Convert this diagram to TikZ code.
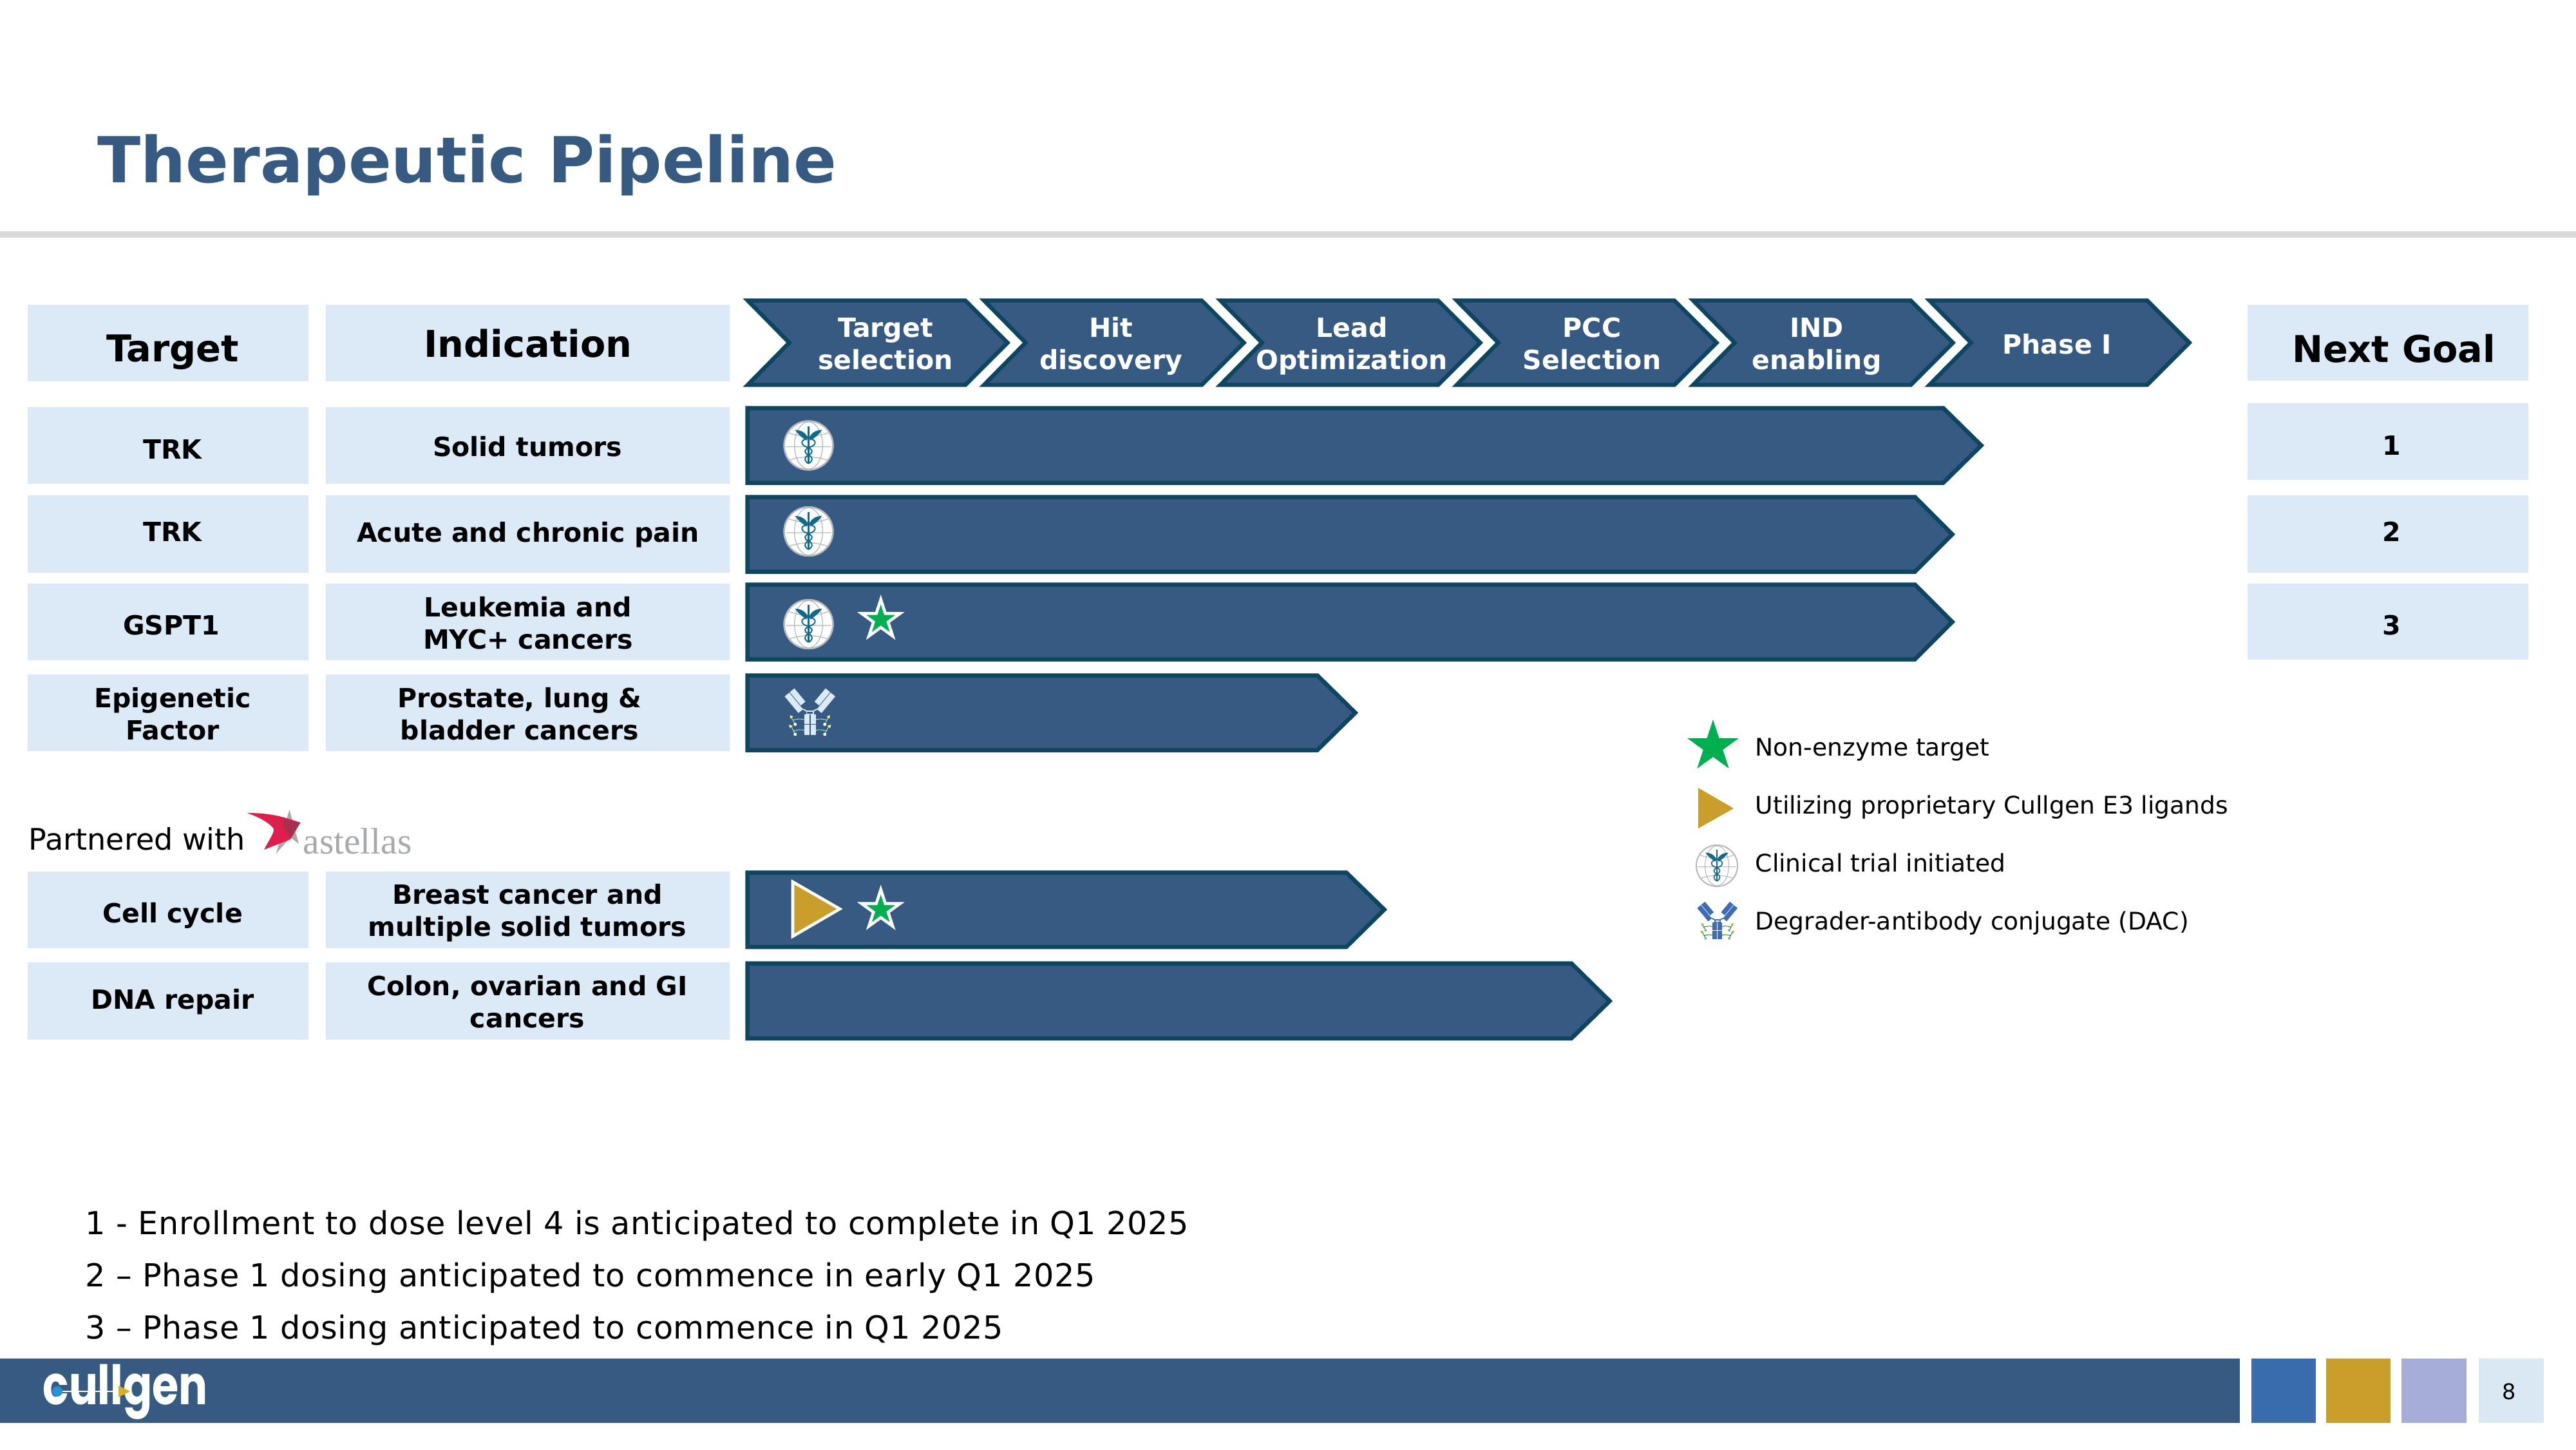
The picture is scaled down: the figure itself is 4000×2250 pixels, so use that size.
\documentclass[tikz,border=0pt]{standalone}
\usepackage{graphicx}
\usepackage{fontspec}
\setmainfont{DejaVu Sans}
\newfontfamily\astfont{Liberation Serif}
\newfontfamily\cullfont{Poppins}
\newfontfamily\widefont[LetterSpace=1.55]{DejaVu Sans}
\definecolor{barfill}{HTML}{375A82}
\definecolor{bardark}{HTML}{0E4560}
\definecolor{cell}{HTML}{DCE9F7}
\definecolor{goldc}{HTML}{C99E2B}
\definecolor{lav}{HTML}{A5ADD8}
\definecolor{midblue}{HTML}{386CAD}
\definecolor{pagec}{HTML}{DAE8F3}
\definecolor{rulec}{HTML}{D9D9D9}
\definecolor{greenc}{HTML}{00B050}
\definecolor{teal}{HTML}{0F6A8B}
\definecolor{globec}{HTML}{B5B8BA}
\definecolor{redc}{HTML}{DF1F4B}
\definecolor{redd}{HTML}{A82F50}
\definecolor{astgrey}{HTML}{A8A9AD}
\definecolor{abarm}{HTML}{3E6DB5}
\tikzset{
  cellbox/.style={fill=cell},
  pipe/.style={fill=barfill,draw=bardark,line width=1.85pt,miter limit=10},
  txt/.style={anchor=base,inner sep=0pt,align=center,text=black},
  rowtxt/.style={txt,font=\fontsize{11.67pt}{14.2pt}\selectfont\bfseries},
  headtxt/.style={txt,font=\fontsize{16.3pt}{19pt}\selectfont\bfseries},
  chevtxt/.style={txt,text=white,font=\fontsize{11.67pt}{14.2pt}\selectfont\bfseries},
  legtxt/.style={anchor=base west,inner sep=0pt,text=black,font=\fontsize{10.7pt}{12pt}\selectfont},
  foottxt/.style={anchor=base west,inner sep=0pt,text=black,font=\widefont\fontsize{14pt}{16pt}\selectfont},
  parttxt/.style={anchor=base west,inner sep=0pt,text=black,font=\fontsize{13.1pt}{15pt}\selectfont},
}
\newcommand\pipebar[5]{\draw[pipe] (1160.5,#1) -- (#3,#1) -- (#4,#5) -- (#3,#2) -- (1160.5,#2) -- cycle;}
\newcommand\starpath{(0,-1)--(.2245,-.309)--(.951,-.309)--(.363,.118)--(.588,.809)--(0,.382)--(-.588,.809)--(-.363,.118)--(-.951,-.309)--(-.2245,-.309)--cycle}
\newcommand\caduceus[3]{%
\begin{scope}[shift={(#1,#2)},scale=#3]
  \fill[white] (0,0) circle (1);
  \draw[globec,line width=.017pt*#3] (0,0) circle (.97);
  \draw[globec,line width=.009pt*#3] (-.9,.05) -- (.9,.05)
    (-.78,-.5) .. controls (-.3,-.32) and (.3,-.32) .. (.78,-.5)
    (-.74,.58) .. controls (-.3,.42) and (.3,.42) .. (.74,.58)
    (0,0) ellipse [x radius=.56,y radius=.94];
  \draw[teal,line width=.018pt*#3] (0,-.76) -- (0,.72);
  \foreach \s in {1,-1}{
    \begin{scope}[xscale=\s]
      \fill[teal] (-.02,-.3) .. controls (-.15,-.55) and (-.3,-.6) .. (-.54,-.62) .. controls (-.44,-.48) and (-.3,-.33) .. (-.08,-.2) -- cycle;
      \draw[teal,line width=.014pt*#3] (-.06,-.25) .. controls (-.32,-.25) and (-.32,-.02) .. (-.1,.05) .. controls (.2,.15) and (.2,.3) .. (0,.38) .. controls (-.22,.48) and (-.15,.65) .. (0,.72);
    \end{scope}}
\end{scope}}
\newcommand\antibody[8]{%
\begin{scope}[shift={(#1,#2)},scale=#3]
  \foreach \s in {1,-1}{
    \begin{scope}[xscale=\s]
      \draw[#5,line width=.25pt] (-70,15) -- (-55,43) (-70,50) -- (-55,80);
      \draw[#5,line width=.25pt] (-22,25) .. controls (-40,22) .. (-62,27) (-22,65) .. controls (-40,62) .. (-62,68);
      \fill[#6] (-75,9) -- (-62,14) -- (-72,22) -- cycle (-78,44) -- (-64,49) -- (-75,57) -- cycle;
      \fill[#7] (-55,43) circle (6) (-55,80) circle (6);
      \fill[#4] (-77.1,-74.8) -- (-25.9,-13.2) -- (-42.9,.8) -- (-94.1,-60.8) -- cycle;
      \fill[#4] (-58,-90.6) -- (-17,-41.4) -- (-34,-27.4) -- (-75,-76.6) -- cycle;
      \draw[#4,line width=.5pt] (-27,-14) -- (-12,-6);
      \fill[#4] (-22,5) rectangle (-2,83);
    \end{scope}}
  \draw[#8,line width=.3pt] (-22,44) -- (22,44);
  \draw[#4,line width=.45pt] (-12,-6) rectangle (12,5);
\end{scope}}
\begin{document}
\begin{tikzpicture}[x=0.01cm,y=-0.01cm]
\useasboundingbox (0,0) rectangle (4000,2250);
% title and rule
\node[anchor=base west,inner sep=0pt,text=barfill,font=\fontsize{28pt}{32pt}\selectfont\bfseries] (title) at (151,283) {Therapeutic Pipeline};
\fill[rulec] (0,359) rectangle (4000,369);
% left cells
\fill[cellbox] (43,473) rectangle (479,592);
\fill[cellbox] (506,473) rectangle (1133,592);
\fill[cellbox] (43,632) rectangle (479,751);
\fill[cellbox] (506,632) rectangle (1133,751);
\fill[cellbox] (43,769) rectangle (479,889);
\fill[cellbox] (506,769) rectangle (1133,889);
\fill[cellbox] (43,906) rectangle (479,1025);
\fill[cellbox] (506,906) rectangle (1133,1025);
\fill[cellbox] (43,1047) rectangle (479,1166);
\fill[cellbox] (506,1047) rectangle (1133,1166);
\fill[cellbox] (43,1353) rectangle (479,1472);
\fill[cellbox] (506,1353) rectangle (1133,1472);
\fill[cellbox] (43,1494) rectangle (479,1614);
\fill[cellbox] (506,1494) rectangle (1133,1614);
% right cells
\fill[cellbox] (3490,473) rectangle (3926,591);
\fill[cellbox] (3490,626) rectangle (3926,745);
\fill[cellbox] (3490,769) rectangle (3926,889);
\fill[cellbox] (3490,906) rectangle (3926,1024);
% chevrons
\foreach \i in {0,...,5}{
  \begin{scope}[shift={(\i*367,0)}]
    \draw[pipe,line width=1.8pt] (1161,466.5) -- (1499,466.5) -- (1564.5,532) -- (1499,597.5) -- (1161,597.5) -- (1225.5,532) -- cycle;
  \end{scope}}
% bars
\pipebar{633.5}{749.5}{3017.5}{3076.5}{691.5}
\pipebar{771.5}{887.5}{2973.5}{3031.5}{829.5}
\pipebar{907.5}{1023.5}{2973.5}{3031.5}{965.5}
\pipebar{1048.5}{1164.5}{2045.5}{2104.5}{1106.5}
\pipebar{1354.5}{1470}{2090.5}{2149.5}{1412}
\pipebar{1495.5}{1612}{2440}{2499.5}{1554}
% icons in bars
\caduceus{1255.5}{691.5}{39}
\caduceus{1255.5}{825}{39}
\caduceus{1255.5}{969}{39}
\antibody{1257.7}{1106.5}{.4176}{cell}{cell!80!green}{yellow!50!white}{white}{barfill}
\draw[fill=goldc,draw=white,line width=1.3pt] (1231,1369) -- (1304,1411) -- (1231,1453.5) -- cycle;
\begin{scope}[shift={(1367.7,1412.4)},scale=31.4]
  \draw[fill=greenc,draw=white,line width=1.3pt] \starpath;
\end{scope}
\begin{scope}[shift={(1367.7,962)},scale=31.4]
  \draw[fill=greenc,draw=white,line width=1.3pt] \starpath;
\end{scope}
% header labels
\node[headtxt] (hT) at (268,561) {Target};
\node[headtxt] (hI) at (820,554) {Indication};
\node[headtxt] (hN) at (3717,562) {Next Goal};
% chevron labels
\node[chevtxt] (c1) at (1375,573) {Target\\selection};
\node[chevtxt] (c2) at (1725,573) {Hit\\discovery};
\node[chevtxt] (c3) at (2099,573) {Lead\\Optimization};
\node[chevtxt] (c4) at (2472,573) {PCC\\Selection};
\node[chevtxt] (c5) at (2821,573) {IND\\enabling};
\node[chevtxt] (c6) at (3194,549) {Phase I};
% row labels
\node[rowtxt] (t1) at (268,712) {TRK};
\node[rowtxt] (i1) at (819,708) {Solid tumors};
\node[rowtxt] (t2) at (268,840) {TRK};
\node[rowtxt] (i2) at (820,841) {Acute and chronic pain};
\node[rowtxt] (t3) at (266,985) {GSPT1};
\node[rowtxt] (i3) at (820,1007) {Leukemia and\\MYC+ cancers};
\node[rowtxt] (t4) at (268,1148) {Epigenetic\\Factor};
\node[rowtxt] (i4) at (807,1148) {Prostate, lung \&\\bladder cancers};
\node[rowtxt] (t5) at (268,1432) {Cell cycle};
\node[rowtxt] (i5) at (819,1453) {Breast cancer and\\multiple solid tumors};
\node[rowtxt] (t6) at (268,1566) {DNA repair};
\node[rowtxt] (i6) at (819,1595) {Colon, ovarian and GI\\cancers};
\node[rowtxt] (n1) at (3714,706) {1};
\node[rowtxt] (n2) at (3714,840) {2};
\node[rowtxt] (n3) at (3714,985) {3};
% partner
\node[parttxt] (pw) at (44,1319) {Partnered with};
\fill[astgrey] (449.5,1257) -- (428.6,1325) -- (451,1300) -- (464,1310) -- cycle;
\fill[redc] (384,1262) .. controls (425,1262) and (445,1270) .. (466.5,1277) -- (451,1303) -- (410,1319) .. controls (420,1300) and (428,1290) .. (424,1285) .. controls (415,1275) and (400,1268) .. (384,1262) -- cycle;
\fill[redd] (440,1272) -- (466.5,1277) -- (451,1300) -- (440,1285) -- cycle;
\node[anchor=base west,inner sep=0pt,text=astgrey,font=\astfont\fontsize{16.3pt}{18pt}\selectfont] (ast) at (470,1325) {astellas};
% legend
\begin{scope}[shift={(2660,1159)},scale=42]
  \fill[greenc] \starpath;
\end{scope}
\fill[goldc] (2637,1223) -- (2692,1255) -- (2637,1286) -- cycle;
\caduceus{2666}{1344}{33}
\antibody{2666.7}{1430}{.3333}{abarm}{green!50!black}{goldc}{abarm!60!white}{white}
\node[legtxt] (l1) at (2725,1173) {Non-enzyme target};
\node[legtxt] (l2) at (2725,1263) {Utilizing proprietary Cullgen E3 ligands};
\node[legtxt] (l3) at (2725,1353) {Clinical trial initiated};
\node[legtxt] (l4) at (2725,1443) {Degrader-antibody conjugate (DAC)};
% footnotes
\node[foottxt] (f1) at (132,1916) {1 - Enrollment to dose level 4 is anticipated to complete in Q1 2025};
\node[foottxt] (f2) at (132,1997) {2 – Phase 1 dosing anticipated to commence in early Q1 2025};
\node[foottxt] (f3) at (132,2078) {3 – Phase 1 dosing anticipated to commence in Q1 2025};
% footer
\fill[barfill] (0,2109) rectangle (3478,2209);
\fill[midblue] (3496,2109) rectangle (3596,2209);
\fill[goldc] (3612,2109) rectangle (3712,2209);
\fill[lav] (3729,2109) rectangle (3830,2209);
\fill[pagec] (3849,2109) rectangle (3950,2209);
\node[anchor=base,inner sep=0pt,text=black,font=\fontsize{9.5pt}{11pt}\selectfont] (pg) at (3896,2172) {8};
\node[anchor=base west,inner sep=0pt,text=white,font=\cullfont\bfseries\fontsize{24pt}{28pt}\selectfont] (logo) at (66,2180) {\scalebox{.79}[1]{cullgen}};
\draw[white,line width=.5pt] (89,2160) -- (186,2160);
\fill[blue!40!cyan!70!gray] (89,2160) circle (8);
\fill[goldc!80!yellow] (184,2151) -- (202,2160) -- (184,2169) -- cycle;
\end{tikzpicture}
\end{document}
